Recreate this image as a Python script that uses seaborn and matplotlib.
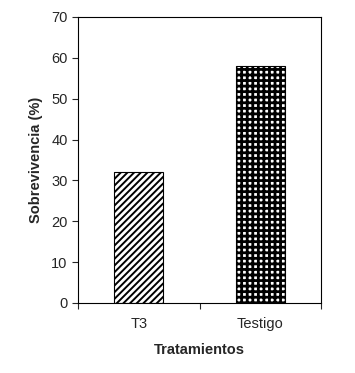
import numpy as np
import pandas as pd
import matplotlib
matplotlib.use("Agg")
import matplotlib.pyplot as plt
import seaborn as sb

# Data
tratamientos = ["T3", "Testigo"]
sobrevivencia = [32, 58]
hatches = ["/////", "+++"]
hatch_lw = [1.4, 2.0]

sb.set_style("ticks")
plt.rcParams['font.family'] = ['Liberation Sans', 'DejaVu Sans']

df = pd.DataFrame({"Tratamientos": tratamientos, "Sobrevivencia": sobrevivencia})

fig = plt.figure(figsize=(3.55, 3.73), dpi=100)
ax = fig.add_axes([78/355, 1 - 303/373, 243/355, 286/373])

sb.barplot(data=df, x="Tratamientos", y="Sobrevivencia", color="white",
           edgecolor="black", linewidth=0.8, width=0.4, ax=ax)
for patch, h, lw in zip(ax.patches, hatches, hatch_lw):
    patch.set_hatch(h)
    if hasattr(patch, "set_hatch_linewidth"):
        patch.set_hatch_linewidth(lw)
    else:
        patch._hatch_linewidth = lw

ax.set_xlim(-0.5, 1.5)
ax.set_ylim(0, 70)
ax.set_yticks(np.arange(0, 71, 10))
ax.set_xticks([-0.5, 0.5, 1.5], minor=False)
ax.set_xticklabels([])
ax.set_xticks([0, 1], minor=True)
ax.set_xticklabels(tratamientos, minor=True)
ax.tick_params(axis="x", which="minor", length=0, labelsize=10.5, pad=10)
ax.tick_params(axis="x", which="major", length=4, width=0.8)
ax.tick_params(axis="y", length=4, width=0.8, labelsize=10.5)
for s in ax.spines.values():
    s.set_linewidth(0.8)
    s.set_color("black")

ax.set_xlabel("Tratamientos", fontsize=10.5, fontweight="bold", labelpad=9)
ax.set_ylabel("Sobrevivencia (%)", fontsize=10.5, fontweight="bold", labelpad=6)

fig.savefig("out.png", dpi=100)
